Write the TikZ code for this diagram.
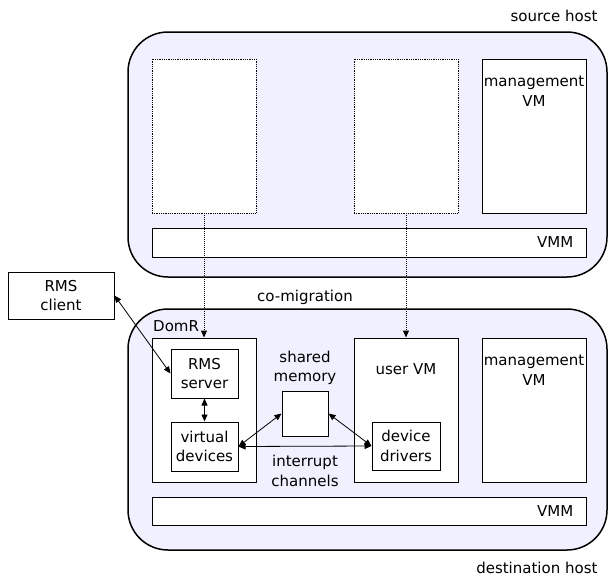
\documentclass[tikz,border=0pt]{standalone}
\usepackage{fontspec}
\setmainfont{DejaVu Sans}
\usetikzlibrary{arrows.meta}
\definecolor{hostfill}{rgb}{0.94,0.94,1}

\begin{document}
\begin{tikzpicture}[%
      x=1pt, y=-1pt,
      font=\fontsize{15}{19.5}\selectfont,
      host/.style={draw, line width=1.5pt, fill=hostfill, rounded corners=40pt, inner sep=0pt},
      vm/.style={draw, line width=1pt, fill=white, inner sep=0pt, align=center},
      ghost/.style={draw, densely dotted, line width=0.8pt, fill=white, inner sep=0pt},
      link/.style={line width=0.8pt, {Triangle[length=7pt,width=6pt]}-{Triangle[length=7pt,width=6pt]}},
      move/.style={densely dotted, line width=1pt, -{Triangle[length=7pt,width=6pt]}},
      ]
      \useasboundingbox (0,0) rectangle (608,576);

      \node [host, minimum width=479pt, minimum height=245pt] (src) at (367.5,154.5) {};
      \node [host, minimum width=479pt, minimum height=241pt] (dst) at (367.5,429.5) {};

      \node [ghost, minimum width=104pt, minimum height=154pt] (srcdom) at (204,136) {};
      \node [ghost, minimum width=104pt, minimum height=154pt] (srcuser) at (406,136) {};
      \node [vm, minimum width=104pt, minimum height=154pt,
             label={[align=center, anchor=north, yshift=-14pt]north:{management\\VM}}] (srcmgmt) at (534,136) {};
      \node [vm, minimum width=434pt, minimum height=29pt,
             label={[anchor=east, inner sep=0pt, xshift=-13pt]east:VMM}] (srcvmm) at (369,242.5) {};

      \node [vm, minimum width=104pt, minimum height=144pt] (domr) at (204,410) {};
      \node [vm, minimum width=104pt, minimum height=144pt] (uservm) at (406,410) {};
      \node [vm, minimum width=104pt, minimum height=144pt,
             label={[align=center, anchor=north, yshift=-14pt]north:{management\\VM}}] (dstmgmt) at (534,410) {};
      \node [vm, minimum width=434pt, minimum height=28pt,
             label={[anchor=east, inner sep=0pt, xshift=-13pt]east:VMM}] (dstvmm) at (369,511) {};

      \node [vm, minimum width=67pt, minimum height=49pt] (server) at (204.5,373.5) {RMS\\server};
      \node [vm, minimum width=67pt, minimum height=49pt] (vdev) at (204.5,446.5) {virtual\\devices};
      \node [vm, minimum width=68pt, minimum height=48pt] (drivers) at (406,446) {device\\drivers};
      \node [vm, minimum width=46pt, minimum height=45pt] (shm) at (305,413.5) {};
      \node [vm, minimum width=106pt, minimum height=47pt] (client) at (61,295.5) {RMS\\client};

      \node [anchor=east] (srclabel) at (601,16) {source host};
      \node [anchor=east] (dstlabel) at (601,568) {destination host};
      \node (comig) at (305,297) {co-migration};
      \node [anchor=base west, inner sep=0pt] (domrlabel) at (153,331) {DomR};
      \node [align=center] (shmlabel) at (305,368) {shared\\memory};
      \node [align=center] (irqlabel) at (305,471) {interrupt\\channels};
      \node (userlabel) at (406,369) {user VM};

      \draw [move] (srcdom.south) -- (domr.north);
      \draw [move] (srcuser.south) -- (uservm.north);

      \draw [link] (client.east) -- (server.west);
      \draw [link] (server.south) -- (vdev.north);
      \draw [link] (vdev.east) -- (shm.west);
      \draw [link] (shm.east) -- (drivers.west);
      \draw [link] (vdev.east) -- (drivers.west);
\end{tikzpicture}
\end{document}
